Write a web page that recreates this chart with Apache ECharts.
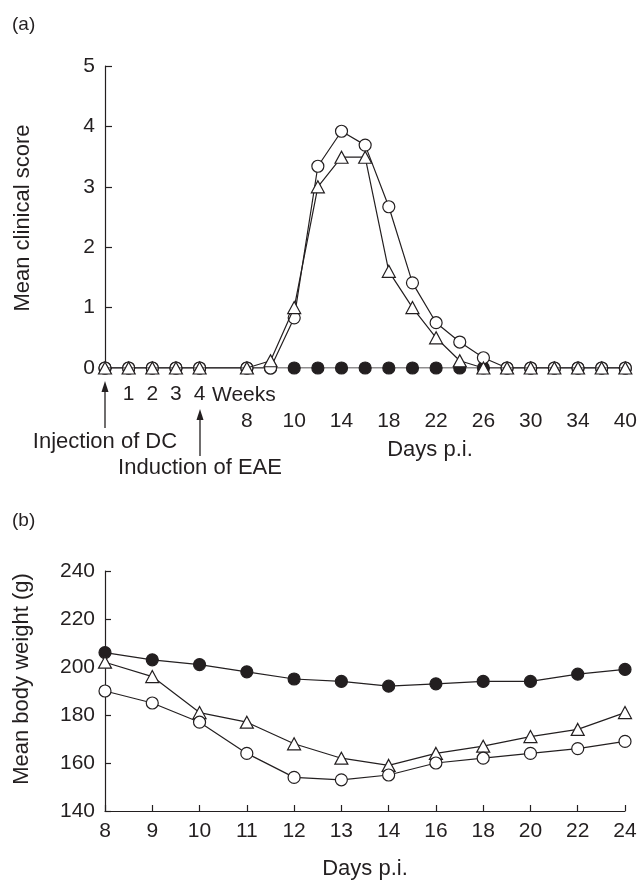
<!DOCTYPE html>
<html>
<head>
<meta charset="utf-8">
<script src="https://cdn.jsdelivr.net/npm/echarts@6/dist/echarts.min.js"></script>
<style>
  html, body { margin: 0; padding: 0; background: #fff; }
  #chart { width: 640px; height: 881px; }
</style>
</head>
<body>
<div id="chart"></div>
<script>
// panel (a): clinical score, weeks before and days after induction
const scoreCategories = ['w0', 'w1', 'w2', 'w3', 'w4', 'gap', 'd8', 'd9', 'd10', 'd12', 'd14', 'd16', 'd18', 'd20', 'd22', 'd24', 'd26', 'd28', 'd30', 'd32', 'd34', 'd37', 'd40'];
const weekLabels = ['', '1', '2', '3', '4', '', '', '', '', '', '', '', '', '', '', '', '', '', '', '', '', '', ''];
const dayLabels = ['', '', '', '', '', '', '8', '', '10', '', '14', '', '18', '', '22', '', '26', '', '30', '', '34', '', '40'];
const scoreOpenCircle = [0, 0, 0, 0, 0, null, 0, 0, 0.83, 3.34, 3.92, 3.69, 2.67, 1.41, 0.75, 0.43, 0.17, 0, 0, 0, 0, 0, 0];
const scoreTriangle = [0, 0, 0, 0, 0, null, 0, 0.12, 1.0, 3.0, 3.49, 3.49, 1.6, 1.0, 0.5, 0.12, 0, 0, 0, 0, 0, 0, 0];
const scoreFilled = [0, 0, 0, 0, 0, null, 0, 0, 0, 0, 0, 0, 0, 0, 0, 0, 0, 0, 0, 0, 0, 0, 0];

// panel (b): body weight
const weightDays = ['8', '9', '10', '11', '12', '13', '14', '16', '18', '20', '22', '24'];
const weightFilled = [206, 203, 201, 198, 195, 194, 192, 193, 194, 194, 197, 199];
const weightTriangle = [202, 196, 181, 177, 168, 162, 159, 164, 167, 171, 174, 181];
const weightOpenCircle = [190, 185, 177, 164, 154, 153, 155, 160, 162, 164, 166, 169];

const ink = '#231f20';
const font = 'Liberation Sans, Arial, sans-serif';

const chart = echarts.init(document.getElementById('chart'));

const lineStyle = { color: ink, width: 1.2 };

function series(name, data, xi, yi, symbol, filled, z) {
    return {
        name,
        type: 'line',
        xAxisIndex: xi,
        yAxisIndex: yi,
        data,
        connectNulls: true,
        symbol,
        symbolSize: symbol === 'triangle' ? [13, 12] : 12,
        showAllSymbol: true,
        z,
        lineStyle,
        itemStyle: { color: filled ? ink : '#fff', borderColor: ink, borderWidth: 1.2 },
        emphasis: { disabled: true },
        animation: false
    };
}

function arrow(x, yTop, yBottom) {
    return [
        { type: 'line', shape: { x1: x, y1: yTop + 8, x2: x, y2: yBottom }, style: { stroke: ink, lineWidth: 1.3 } },
        { type: 'polygon', shape: { points: [[x, yTop], [x - 3.5, yTop + 11], [x + 3.5, yTop + 11]] }, style: { fill: ink } }
    ];
}

// rotated y-axis titles placed where the reference has them
function yTitle(text, x, y) {
    return {
        type: 'text', x, y, rotation: Math.PI / 2,
        style: { text, font: '22px ' + font, fill: ink, textAlign: 'center', textVerticalAlign: 'middle' }
    };
}

const option = {
    backgroundColor: '#fff',
    textStyle: { fontFamily: font, color: ink },
    grid: [
        { left: 105, right: 8, top: 66, bottom: 513 },
        { left: 105, right: 15, top: 571, bottom: 70 }
    ],
    xAxis: [
        {
            gridIndex: 0, type: 'category', position: 'bottom', data: scoreCategories, boundaryGap: false,
            axisLine: { show: false }, axisTick: { show: false },
            axisLabel: { interval: 0, margin: 16, fontSize: 21, color: ink, fontFamily: font, formatter: (v, i) => weekLabels[i] }
        },
        {
            gridIndex: 0, type: 'category', position: 'bottom', offset: 0, data: scoreCategories, boundaryGap: false,
            axisLine: { show: false }, axisTick: { show: false },
            axisLabel: { interval: 0, margin: 43, fontSize: 21, color: ink, fontFamily: font, formatter: (v, i) => dayLabels[i] }
        },
        {
            gridIndex: 1, type: 'category', position: 'bottom', data: weightDays, boundaryGap: false,
            axisLine: { lineStyle: { color: ink, width: 1.2 } },
            axisTick: { inside: true, length: 6, lineStyle: { color: ink, width: 1.2 } },
            axisLabel: { interval: 0, margin: 10, fontSize: 21, color: ink, fontFamily: font },
            name: 'Days p.i.', nameLocation: 'middle', nameGap: 47,
            nameTextStyle: { fontSize: 22, color: ink, fontFamily: font }
        }
    ],
    yAxis: [
        {
            gridIndex: 0, type: 'value', min: 0, max: 5, interval: 1,
            axisLine: { show: true, lineStyle: { color: ink, width: 1.2 } },
            axisTick: { show: true, inside: true, length: 7, lineStyle: { color: ink, width: 1.2 } },
            axisLabel: { margin: 10, fontSize: 21, color: ink, fontFamily: font },
            splitLine: { show: false }
        },
        {
            gridIndex: 1, type: 'value', min: 140, max: 240, interval: 20,
            axisLine: { show: true, lineStyle: { color: ink, width: 1.2 } },
            axisTick: { show: true, inside: true, length: 6, lineStyle: { color: ink, width: 1.2 } },
            axisLabel: { margin: 10, fontSize: 21, color: ink, fontFamily: font },
            splitLine: { show: false }
        }
    ],
    graphic: [
        { type: 'text', left: 12, top: 15, style: { text: '(a)', font: '19px ' + font, fill: ink } },
        { type: 'text', left: 12, top: 511, style: { text: '(b)', font: '19px ' + font, fill: ink } },
        yTitle('Mean clinical score', 23, 218),
        yTitle('Mean body weight (g)', 22, 679),
        { type: 'text', x: 212, y: 395, style: { text: 'Weeks', font: '21px ' + font, fill: ink, textVerticalAlign: 'middle' } },
        { type: 'text', x: 430, y: 450, style: { text: 'Days p.i.', font: '22px ' + font, fill: ink, textAlign: 'center', textVerticalAlign: 'middle' } },
        { type: 'text', x: 105, y: 442, style: { text: 'Injection of DC', font: '22px ' + font, fill: ink, textAlign: 'center', textVerticalAlign: 'middle' } },
        { type: 'text', x: 200, y: 468, style: { text: 'Induction of EAE', font: '22px ' + font, fill: ink, textAlign: 'center', textVerticalAlign: 'middle' } },
        ...arrow(105, 381, 428),
        ...arrow(200, 409, 456)
    ],
    series: [
        series('Filled', scoreFilled, 0, 0, 'circle', true, 2),
        series('Open circle', scoreOpenCircle, 0, 0, 'circle', false, 3),
        series('Triangle', scoreTriangle, 0, 0, 'triangle', false, 4),
        series('Filled', weightFilled, 2, 1, 'circle', true, 2),
        series('Triangle', weightTriangle, 2, 1, 'triangle', false, 3),
        series('Open circle', weightOpenCircle, 2, 1, 'circle', false, 4)
    ]
};

chart.setOption(option);
</script>
</body>
</html>
